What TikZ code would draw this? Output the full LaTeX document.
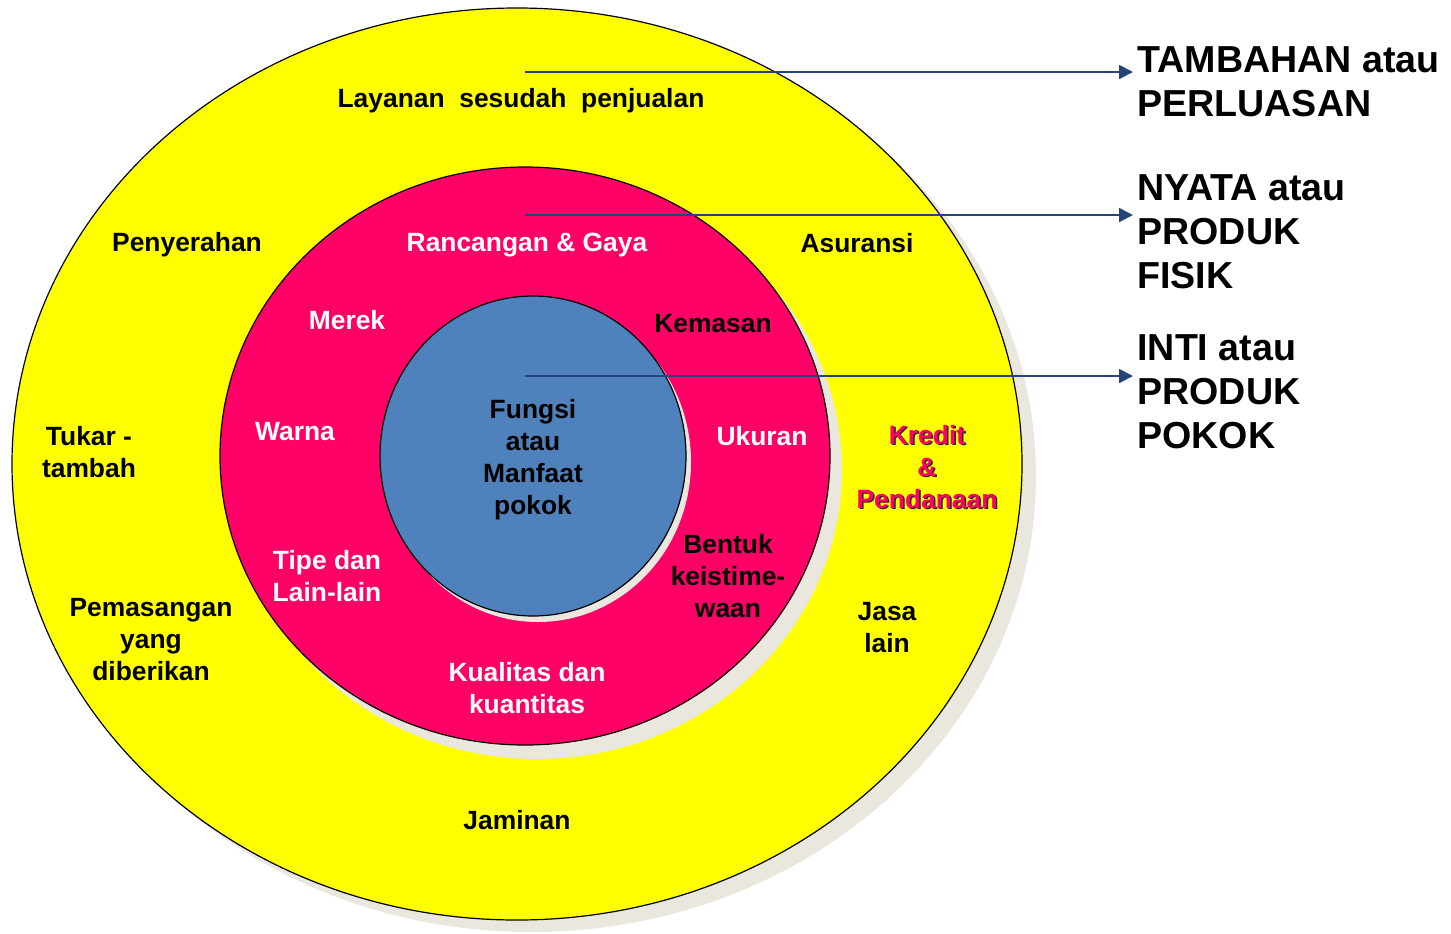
\documentclass[tikz,border=0pt]{standalone}
\usepackage{fontspec}
\setmainfont{Liberation Sans}
\usetikzlibrary{arrows.meta,positioning}

\definecolor{ringyellow}{RGB}{255,255,0}
\definecolor{ringred}{RGB}{255,0,102}
\definecolor{coreblue}{RGB}{79,129,189}
\definecolor{ringshadow}{RGB}{234,232,222}
\definecolor{linkblue}{RGB}{37,68,122}

\begin{document}
\begin{tikzpicture}[x=0.5pt, y=-0.5pt,
    lbl/.style={font=\fontsize{13.2}{16}\selectfont\bfseries, align=center, inner sep=0pt},
    whitelbl/.style={lbl, text=white},
    level/.style={font=\fontsize{18.8}{22}\selectfont\bfseries, align=left, anchor=north west, inner sep=0pt},
    link/.style={draw=linkblue, line width=1pt, -{Triangle[length=7pt,width=7pt]}}]
    \useasboundingbox (0,0) rectangle (1451,933);

    % Rings with their shadows
    \fill[ringshadow] (531,476) ellipse [x radius=252.5pt, y radius=228pt];
    \draw[fill=ringyellow, line width=0.6pt] (517,464) ellipse [x radius=252.5pt, y radius=228pt];
    \fill[ringshadow] (537,470) ellipse [x radius=152.5pt, y radius=144.5pt];
    \draw[fill=ringred, line width=0.6pt] (525,456) ellipse [x radius=152.5pt, y radius=144.5pt];
    \fill[ringshadow] (538,462) ellipse [x radius=76.5pt, y radius=80pt];
    \draw[fill=coreblue, line width=0.6pt] (533,456) ellipse [x radius=76.5pt, y radius=80pt];

    % Outer ring labels
    \node (layanan) [lbl] at (521,101) {Layanan\ \ sesudah\ \ penjualan};
    \node (penyerahan) [lbl] at (187,245) {Penyerahan};
    \node (asuransi) [lbl] at (857,243) {Asuransi};
    \node (tukar) [lbl] at (89,452) {Tukar -\\tambah};
    \node (kreditshadow) [lbl, text=black!85] at (928.5,468.5) {Kredit\\\&\\Pendanaan};
    \node (kredit) [lbl, text=ringred] at (927,467) {Kredit\\\&\\Pendanaan};
    \node (pemasangan) [lbl] at (151,640) {Pemasangan\\yang\\diberikan};
    \node (jasa) [lbl] at (887,628) {Jasa\\lain};
    \node (jaminan) [lbl] at (517,820) {Jaminan};

    % Middle ring labels
    \node (rancangan) [whitelbl] at (527,245) {Rancangan \& Gaya};
    \node (merek) [whitelbl] at (347,320) {Merek};
    \node (kemasan) [lbl] at (713,324) {Kemasan};
    \node (warna) [whitelbl] at (295,432) {Warna};
    \node (ukuran) [whitelbl] at (762,436) {Ukuran};
    \node (tipe) [whitelbl] at (327,576) {Tipe dan\\Lain-lain};
    \node (bentuk) [lbl] at (728,576) {Bentuk\\keistime-\\waan};
    \node (kualitas) [whitelbl] at (527,688) {Kualitas dan\\kuantitas};

    % Core label
    \node (fungsi) [lbl] at (533,460) {Fungsi\\atau\\Manfaat\\pokok};

    % Level names
    \node (tambahan) [level] at (1137,46) {TAMBAHAN atau\\PERLUASAN};
    \node (nyata) [level] at (1137,174) {NYATA atau\\PRODUK\\FISIK};
    \node (inti) [level] at (1137,334) {INTI atau\\PRODUK\\POKOK};

    % Pointers
    \coordinate (outerstart) at (525,72);
    \coordinate (middlestart) at (525,215);
    \coordinate (corestart) at (525,376);
    \draw[link] (outerstart) -- ([xshift=-2pt]tambahan.west |- outerstart);
    \draw[link] (middlestart) -- ([xshift=-2pt]nyata.west |- middlestart);
    \draw[link] (corestart) -- ([xshift=-2pt]inti.west |- corestart);
\end{tikzpicture}
\end{document}
